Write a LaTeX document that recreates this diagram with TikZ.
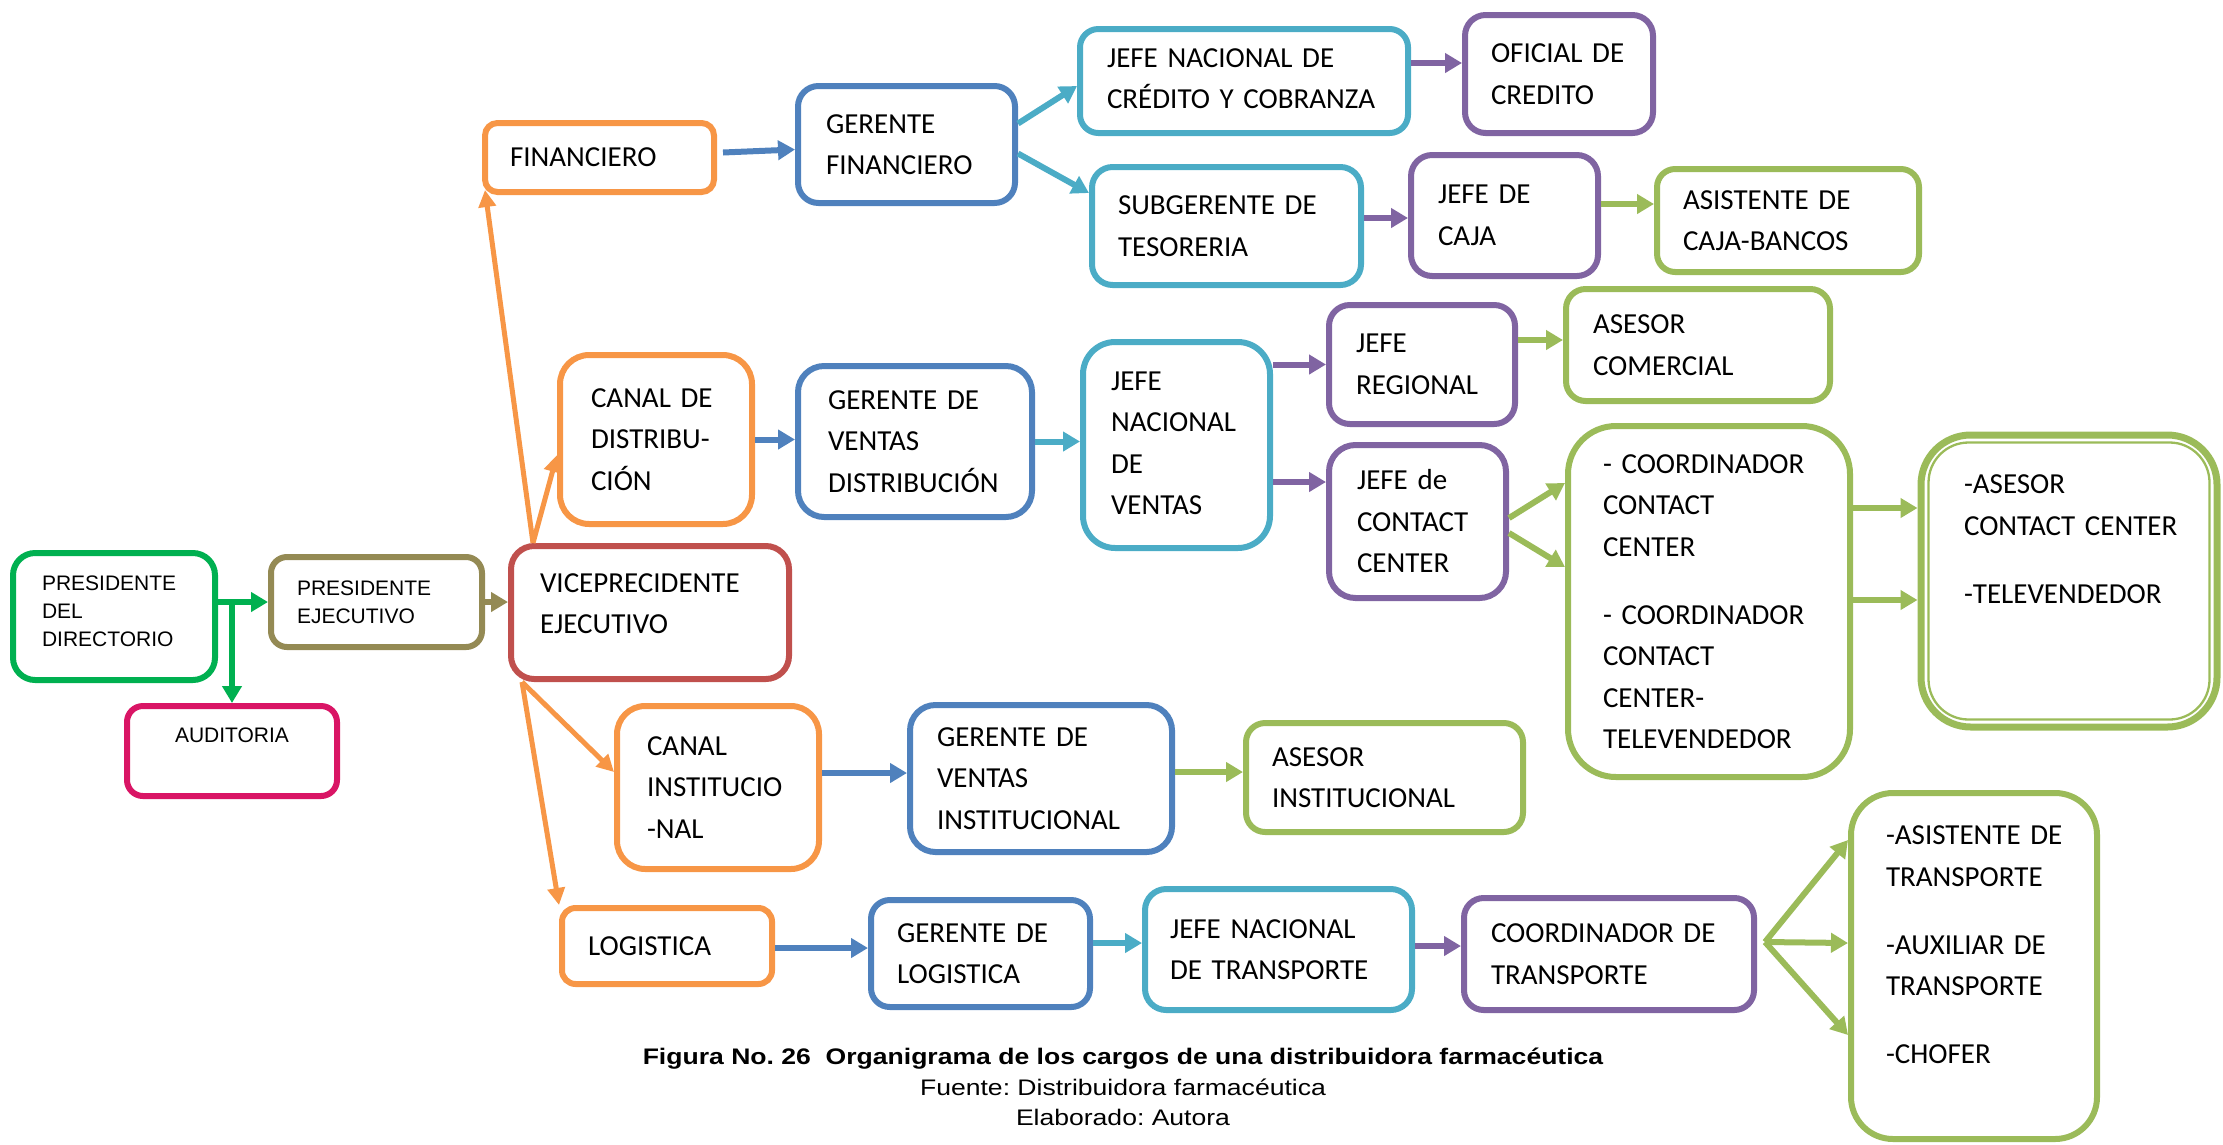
\documentclass[tikz,border=0pt]{standalone}
\usepackage{fontspec}
\setmainfont{Carlito}
\newfontfamily\arialfont{Liberation Sans}
\newfontfamily\capfont[FakeStretch=1.18]{Liberation Sans}
\usetikzlibrary{arrows.meta,calc}
\frenchspacing

\definecolor{cGreenDark}{RGB}{0,176,80}
\definecolor{cOlive}{RGB}{148,138,84}
\definecolor{cPink}{RGB}{217,21,101}
\definecolor{cRed}{RGB}{192,80,77}
\definecolor{cOrange}{RGB}{247,150,70}
\definecolor{cBlue}{RGB}{79,129,189}
\definecolor{cTeal}{RGB}{75,172,198}
\definecolor{cPurple}{RGB}{128,100,162}
\definecolor{cGreen}{RGB}{155,187,89}

\tikzset{
  box/.style={draw, line width=6pt, align=left, inner ysep=0pt,
    font=\fontsize{29}{41.5}\selectfont,
    execute at begin node={\hyphenpenalty=10000\exhyphenpenalty=10000}},
  smallbox/.style={font=\arialfont\fontsize{21}{28}\selectfont},
  link/.style={line width=6pt, -{Triangle[length=17pt,width=19pt]}},
  thinlink/.style={line width=5pt, -{Triangle[length=17pt,width=17pt]}},
  captionline/.style={anchor=base, inner sep=0pt, text=black},
}

% depth-only strut: lifts the text block inside its box by half the amount
\newcommand\lift[1]{\rule[-#1pt]{0pt}{0pt}}

% \orgbox{name}{x1}{y1}{x2}{y2}{style}{left padding}{text}
\newcommand\orgbox[8]{%
  \pgfmathsetmacro\bw{#4-#2}%
  \pgfmathsetmacro\bh{#5-#3}%
  \pgfmathsetmacro\rad{min(\bw,\bh)/6}%
  \pgfmathsetmacro\tw{\bw-2*#7}%
  \pgfmathsetmacro\isep{#7-3}%
  \pgfmathsetmacro\mw{\bw-6}%
  \pgfmathsetmacro\mh{\bh-6}%
  \node[box, rounded corners=\rad pt, minimum width=\mw pt, minimum height=\mh pt,
        text width=\tw pt, inner xsep=\isep pt, #6, text=black] (#1) at ({(#2+#4)/2},{(#3+#5)/2}) {#8};%
}

\begin{document}
\begin{tikzpicture}[x=1pt, y=-1pt]
\useasboundingbox (0,0) rectangle (2223,1144);

% ---- top management
\orgbox{pdd}{10}{550}{218}{683}{cGreenDark, smallbox}{32}{PRESIDENTE\\DEL\\DIRECTORIO\lift{11}}
\orgbox{pe}{268}{554}{485}{650}{cOlive, smallbox}{29}{PRESIDENTE\\EJECUTIVO}
\orgbox{aud}{124}{703}{340}{799}{cPink, smallbox, align=center}{30}{AUDITORIA\lift{31}}
\orgbox{vpe}{508}{543}{792}{682}{cRed}{32}{VICEPRECIDENTE\\EJECUTIVO\lift{18}}

% ---- finance branch
\orgbox{fin}{482}{120}{717}{195}{cOrange}{28}{FINANCIERO}
\orgbox{gf}{795}{83}{1018}{206}{cBlue}{31}{GERENTE\\FINANCIERO}
\orgbox{jncc}{1077}{26}{1411}{136}{cTeal}{30}{JEFE~NACIONAL~DE\\CRÉDITO~Y~COBRANZA\lift{5}}
\orgbox{oc}{1462}{12}{1656}{136}{cPurple}{29}{OFICIAL~DE\\CREDITO}
\orgbox{st}{1089}{164}{1364}{288}{cTeal}{29}{SUBGERENTE~DE\\TESORERIA}
\orgbox{jc}{1408}{152}{1601}{279}{cPurple}{30}{JEFE~DE\\CAJA}
\orgbox{acb}{1654}{166}{1922}{275}{cGreen}{29}{ASISTENTE~DE\\CAJA-BANCOS}

% ---- distribution branch
\orgbox{cd}{557}{352}{755}{527}{cOrange}{34}{CANAL~DE\\DISTRIBU-\\CIÓN}
\orgbox{gvd}{795}{363}{1035}{520}{cBlue}{33}{GERENTE~DE\\VENTAS\\DISTRIBUCIÓN}
\orgbox{jnv}{1080}{339}{1273}{551}{cTeal}{31}{JEFE\\NACIONAL\\DE\\VENTAS\lift{4}}
\orgbox{jr}{1326}{302}{1518}{427}{cPurple}{30}{JEFE\\REGIONAL}
\orgbox{ac}{1563}{286}{1833}{404}{cGreen}{30}{ASESOR\\COMERCIAL}
\orgbox{jcc}{1326}{442}{1509}{601}{cPurple}{31}{JEFE~de\\CONTACT\\CENTER}
\orgbox{ccc}{1565}{423}{1853}{780}{cGreen}{38}{-~COORDINADOR\\CONTACT\\CENTER\\[26.5pt]-~COORDINADOR\\CONTACT\\CENTER-\\TELEVENDEDOR}
\orgbox{acc}{1918}{432}{2220}{730}{cGreen, line width=7pt}{46}{-ASESOR\\CONTACT~CENTER\\[26.5pt]-TELEVENDEDOR\lift{84}}
\draw[cGreen, line width=2.3pt, rounded corners=40pt]
  ([shift={(11pt,-11pt)}]acc.north west) rectangle ([shift={(-11pt,11pt)}]acc.south east);

% ---- institutional branch
\orgbox{ci}{614}{703}{822}{872}{cOrange}{33}{CANAL\\INSTITUCIO\\-NAL}
\orgbox{gvi}{907}{702}{1175}{855}{cBlue}{30}{GERENTE~DE\\VENTAS\\INSTITUCIONAL}
\orgbox{ai}{1243}{720}{1526}{835}{cGreen}{29}{ASESOR\\INSTITUCIONAL}

% ---- logistics branch
\orgbox{log}{559}{905}{775}{987}{cOrange}{29}{LOGISTICA}
\orgbox{gl}{868}{897}{1093}{1010}{cBlue}{29}{GERENTE~DE\\LOGISTICA}
\orgbox{jnt}{1142}{886}{1415}{1013}{cTeal}{28}{JEFE~NACIONAL\\DE~TRANSPORTE}
\orgbox{ct}{1461}{895}{1757}{1013}{cPurple}{30}{COORDINADOR~DE\\TRANSPORTE}
\orgbox{at}{1848}{790}{2100}{1142}{cGreen}{38}{-ASISTENTE~DE\\TRANSPORTE\\[26.5pt]-AUXILIAR~DE\\TRANSPORTE\\[26.5pt]-CHOFER\lift{42}}

% ---- connectors: top management
\draw[link, cGreenDark] (pdd.east |- pe.west) -- (pe.west);
\draw[link, cGreenDark] (aud.north |- pe.west) -- (aud.north);
\draw[link, cOlive] (pe.east) -- (vpe.west |- pe.east);
\draw[thinlink, cOrange] ([xshift=25pt]vpe.north west) -- ([shift={(3pt,5pt)}]fin.south west);
\draw[thinlink, cOrange] ([xshift=25pt]vpe.north west) -- ([yshift=-15.5pt]cd.west);
\draw[thinlink, cOrange] ([xshift=14pt]vpe.south west) -- ([yshift=15.5pt]ci.west);
\draw[thinlink, cOrange] ([xshift=14pt]vpe.south west) -- (log.north west);

% ---- connectors: finance
\draw[link, cBlue] ([shift={(6pt,5pt)}]fin.east) -- ([yshift=-5pt]gf.west);
\draw[link, cTeal] ([yshift=21pt]gf.east) -- ([yshift=-5pt]jncc.west);
\draw[link, cTeal] ([yshift=-9pt]gf.east) -- ([yshift=33pt]st.west);
\draw[link, cPurple] ([yshift=18pt]jncc.east) -- ([yshift=11pt]oc.west);
\draw[link, cPurple] ([yshift=8pt]st.east) -- ([yshift=-2.5pt]jc.west);
\draw[link, cGreen] ([yshift=11.5pt]jc.east) -- ([yshift=16.5pt]acb.west);

% ---- connectors: distribution
\draw[link, cBlue] (cd.east) -- (gvd.west |- cd.east);
\draw[link, cTeal] (gvd.east) -- (jnv.west |- gvd.east);
\draw[link, cPurple] (jnv.east |- jr.west) -- (jr.west);
\coordinate (jccIn) at ([yshift=39.5pt]jcc.west);
\draw[link, cPurple] (jnv.east |- jccIn) -- (jccIn);
\draw[link, cGreen] ([yshift=24.5pt]jr.east) -- ([yshift=5pt]ac.west);
\draw[link, cGreen] ([yshift=3.5pt]jcc.east) -- ([yshift=118.5pt]ccc.west);
\draw[link, cGreen] ([yshift=-11.5pt]jcc.east) -- ([yshift=34.5pt]ccc.west);
\draw[link, cGreen] ([yshift=93.5pt]ccc.east) -- ([yshift=73pt]acc.west);
\draw[link, cGreen] ([yshift=1.5pt]ccc.east) -- ([yshift=-19pt]acc.west);

% ---- connectors: institutional and logistics
\draw[link, cBlue] ([yshift=14.5pt]ci.east) -- ([yshift=5.5pt]gvi.west);
\draw[link, cGreen] ([yshift=6.5pt]gvi.east) -- ([yshift=5.5pt]ai.west);
\draw[link, cBlue] ([yshift=-2pt]log.east) -- ([yshift=5.5pt]gl.west);
\draw[link, cTeal] ([yshift=10.5pt]gl.east) -- ([yshift=6.5pt]jnt.west);
\draw[link, cPurple] ([yshift=3.5pt]jnt.east) -- ([yshift=8pt]ct.west);
\coordinate (fan) at ([shift={(8pt,12pt)}]ct.east);
\draw[link, cGreen] (fan) -- ([yshift=126pt]at.west);
\draw[link, cGreen] (fan) -- ([yshift=23pt]at.west);
\draw[link, cGreen] (fan) -- ([yshift=-69pt]at.west);

% ---- caption
\node[captionline, font=\capfont\bfseries\fontsize{22.5}{30}\selectfont] (cap) at (1123,1064)
  {Figura No. 26~~Organigrama de los cargos de una distribuidora farmacéutica};
\node[captionline, font=\capfont\fontsize{22.5}{30}\selectfont] (src) at (1123,1095)
  {Fuente: Distribuidora farmacéutica};
\node[captionline, font=\capfont\fontsize{22.5}{30}\selectfont] (auth) at (1123,1125)
  {Elaborado: Autora};
\end{tikzpicture}
\end{document}
